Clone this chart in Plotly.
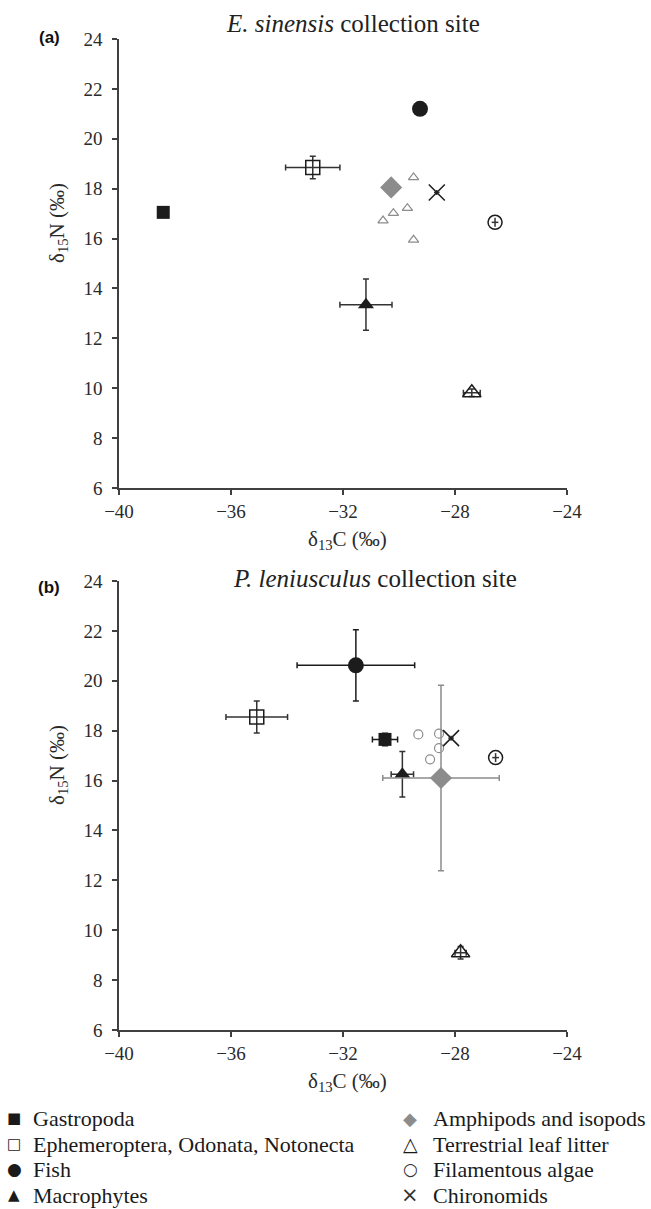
import plotly.graph_objects as go

W, H = 651, 1209

groups = ["Gastropoda", "Ephemeroptera, Odonata, Notonecta", "Fish", "Macrophytes",
          "Amphipods and isopods", "Terrestrial leaf litter", "Filamentous algae", "Chironomids"]
legend_glyphs = ["\u25a0", "\u25a1", "\u25cf", "\u25b2", "\u25c6", "\u25b3", "\u25cb", "\u00d7"]

# E. sinensis collection site (panel a)
a_x = [-38.42, -33.08, -29.25, -31.18, -30.28, -27.40, -26.57, -28.65]
a_y = [17.05, 18.85, 21.20, 13.35, 18.05, 9.82, 16.65, 17.85]
a_xerr = [0.0, 0.97, 0.0, 0.93, 0.15, 0.30, 0.12, 0.10]
a_yerr = [0.0, 0.45, 0.0, 1.03, 0.25, 0.15, 0.18, 0.10]
a_ind_x = [-29.48, -29.70, -30.20, -30.57, -29.48]
a_ind_y = [18.45, 17.22, 17.02, 16.72, 15.95]

# P. leniusculus collection site (panel b)
b_x = [-30.50, -35.08, -31.54, -29.88, -28.50, -27.80, -26.55, -28.14]
b_y = [17.65, 18.55, 20.62, 16.25, 16.10, 9.10, 16.92, 17.70]
b_xerr = [0.45, 1.10, 2.10, 0.40, 2.08, 0.20, 0.12, 0.10]
b_yerr = [0.25, 0.64, 1.43, 0.91, 3.72, 0.25, 0.18, 0.10]
b_ind_x = [-29.31, -28.57, -28.57, -28.89]
b_ind_y = [17.85, 17.88, 17.30, 16.85]

x_ticks = [-40, -36, -32, -28, -24]
x_ticktext = ["\u221240", "\u221236", "\u221232", "\u221228", "\u221224"]
y_ticks = [6, 8, 10, 12, 14, 16, 18, 20, 22, 24]

BLACK = "#1c1c1c"
GRAY = "#8c8c8c"
AX = "#404040"
SERIF = "Liberation Serif"

styles = [
    dict(symbol="square", size=13, color=BLACK, line=dict(width=0)),
    dict(symbol="square-open", size=14, color=BLACK, line=dict(width=1.5)),
    dict(symbol="circle", size=16, color=BLACK, line=dict(width=0)),
    dict(symbol="triangle-up", size=14, color=BLACK, line=dict(width=0)),
    dict(symbol="diamond", size=17, color=GRAY, line=dict(width=0)),
    dict(symbol="triangle-up-open", size=16, color=BLACK, line=dict(width=1.5)),
    dict(symbol="circle-open", size=14, color=BLACK, line=dict(width=1.5)),
    dict(symbol="x-thin-open", size=16, color=BLACK, line=dict(width=1.5, color="#333")),
]
err_cols = [BLACK, "#333", BLACK, "#333", GRAY, "#333", "#333", "#333"]
err_w = [3, 3, 3, 3, 3, 3, 0, 0]
glyph_cols = ["#1a1a1a", "#1a1a1a", "#1a1a1a", "#1a1a1a", GRAY, "#1a1a1a", "#333", "#333"]
glyph_sizes = [15, 15, 17, 15, 18, 19, 17, 21]

fig = go.Figure()

def add_panel(xs, ys, xe, ye, ix, iy, ind_symbol, xa, ya):
    fig.add_trace(go.Scatter(x=ix, y=iy, mode="markers", xaxis=xa, yaxis=ya, showlegend=False,
                             marker=dict(symbol=ind_symbol, size=9, color=GRAY,
                                         line=dict(width=1.2, color=GRAY))))
    for i, g in enumerate(groups):
        fig.add_trace(go.Scatter(
            x=[xs[i]], y=[ys[i]], mode="markers", name=g, xaxis=xa, yaxis=ya, showlegend=False,
            marker=styles[i],
            error_x=dict(type="data", array=[xe[i]], visible=xe[i] > 0, color=err_cols[i],
                         thickness=1.5, width=err_w[i]),
            error_y=dict(type="data", array=[ye[i]], visible=ye[i] > 0, color=err_cols[i],
                         thickness=1.5, width=err_w[i]),
        ))

add_panel(a_x, a_y, a_xerr, a_yerr, a_ind_x, a_ind_y, "triangle-up-open", "x", "y")
add_panel(b_x, b_y, b_xerr, b_yerr, b_ind_x, b_ind_y, "circle-open", "x2", "y2")

def px_x(p):
    return p / W

def px_y(p):
    return 1 - p / H

x_left, x_right = 119, 567
top_t, top_b = 39, 488
bot_t, bot_b = 581, 1030

axis_common = dict(showline=True, linecolor=AX, linewidth=1.5, ticks="outside", ticklen=5,
                   tickwidth=1.5, tickcolor=AX, showgrid=False, zeroline=False,
                   tickfont=dict(family=SERIF, size=19, color="#2a2a2a"), automargin=False)

fig.update_layout(
    width=W, height=H, margin=dict(l=0, r=0, t=0, b=0),
    paper_bgcolor="white", plot_bgcolor="white", showlegend=False,
    xaxis=dict(domain=[px_x(x_left), px_x(x_right)], range=[-40, -24], tickvals=x_ticks,
               ticktext=x_ticktext, anchor="y", ticklabelstandoff=0, **axis_common),
    yaxis=dict(domain=[px_y(top_b), px_y(top_t)], range=[6, 24], tickvals=y_ticks,
               anchor="x", ticklabelstandoff=6, **axis_common),
    xaxis2=dict(domain=[px_x(x_left), px_x(x_right)], range=[-40, -24], tickvals=x_ticks,
                ticktext=x_ticktext, anchor="y2", ticklabelstandoff=0, **axis_common),
    yaxis2=dict(domain=[px_y(bot_b), px_y(bot_t)], range=[6, 24], tickvals=y_ticks,
                anchor="x2", ticklabelstandoff=6, **axis_common),
)

ann = []
def add_ann(text, x, y, size, family=SERIF, color="#222", xanchor="center", angle=0):
    ann.append(dict(text=text, x=px_x(x), y=px_y(y), xref="paper", yref="paper", showarrow=False,
                    xanchor=xanchor, yanchor="middle", textangle=angle,
                    font=dict(family=family, size=size, color=color)))

add_ann("<i>E. sinensis</i> collection site", 353, 24, 25)
add_ann("<i>P. leniusculus</i> collection site", 375, 578, 25)
add_ann("<b>(a)</b>", 49, 38, 17, family="Liberation Sans", color="#111")
add_ann("<b>(b)</b>", 49, 587, 17, family="Liberation Sans", color="#111")
for yy in (540, 1082):
    add_ann("\u03b4<sub>13</sub>C (\u2030)", 347, yy, 21, color="#2a2a2a")
for yy in (223, 765):
    add_ann("\u03b4<sub>15</sub>N (\u2030)", 58, yy, 21, color="#2a2a2a", angle=-90)

# legend (two columns)
row_y = [1118, 1144, 1169, 1195]
col_sym_x = [14, 410]
col_txt_x = [31, 431]
for i, g in enumerate(groups):
    col, row = divmod(i, 4)
    add_ann(legend_glyphs[i], col_sym_x[col], row_y[row], glyph_sizes[i], family="DejaVu Sans",
            color=glyph_cols[i])
    add_ann(g, col_txt_x[col], row_y[row], 22, xanchor="left", color="#1a1a1a")

fig.update_layout(annotations=ann)

fig.write_html("out.html")
